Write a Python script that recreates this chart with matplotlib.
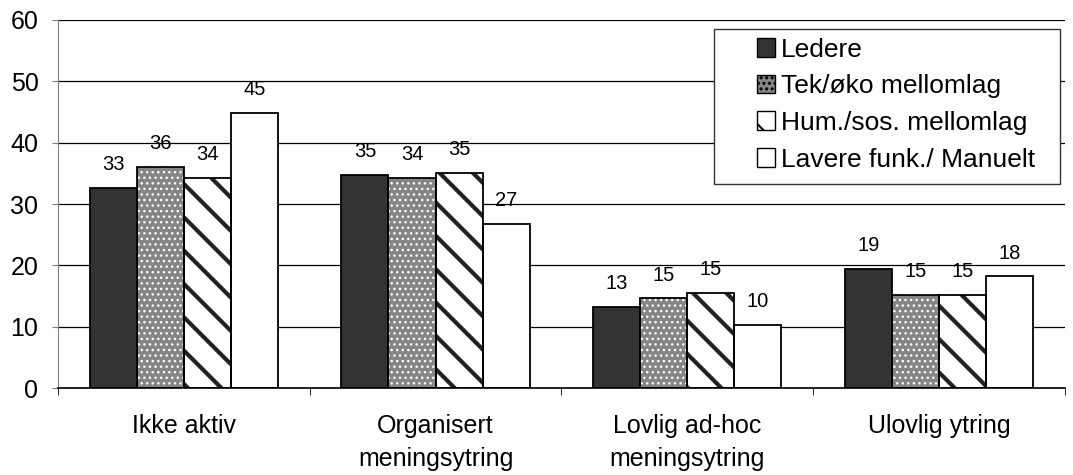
import matplotlib
matplotlib.use("Agg")
import matplotlib.pyplot as plt
import numpy as np
from matplotlib.patches import Patch, Rectangle

plt.rcParams["font.family"] = ["Liberation Sans", "DejaVu Sans"]

categories = ["Ikke aktiv", "Organisert\nmeningsytring",
              "Lovlig ad-hoc\nmeningsytring", "Ulovlig ytring"]
series = ["Ledere", "Tek/øko mellomlag", "Hum./sos. mellomlag",
          "Lavere funk./ Manuelt"]

ledere = [32.6, 34.8, 13.2, 19.4]
tek = [36.1, 34.3, 14.6, 15.2]
hum = [34.3, 35.0, 15.5, 15.2]
lavere = [44.9, 26.8, 10.3, 18.2]

ledere_lbl = [33, 35, 13, 19]
tek_lbl = [36, 34, 15, 15]
hum_lbl = [34, 35, 15, 15]
lavere_lbl = [45, 27, 10, 18]

yticks = [0, 10, 20, 30, 40, 50, 60]

# look of each series: (face, hatch, hatch colour, hatch linewidth)
styles = [
    ("#333333", "", "black", 1.0),
    ("#858585", "...", "white", 1.0),
    ("white", "\\", "#222222", 3.0),
    ("white", "", "black", 1.0),
]

fig = plt.figure(figsize=(10.73, 4.75), dpi=100)
ax = fig.add_axes([0.054, 0.183, 0.9385, 0.775])

x = np.arange(len(categories))
width = 0.187
offsets = (np.arange(4) - 1.5) * width

all_vals = [ledere, tek, hum, lavere]
all_lbls = [ledere_lbl, tek_lbl, hum_lbl, lavere_lbl]

for vals, lbls, off, (face, hatch, hcol, hlw) in zip(all_vals, all_lbls, offsets, styles):
    with plt.rc_context({"hatch.linewidth": hlw}):
        ax.bar(x + off, vals, width, color=face, hatch=hatch,
               edgecolor=hcol if hatch else face, linewidth=0, zorder=2)
    ax.bar(x + off, vals, width, facecolor="none", edgecolor="black",
           linewidth=1.3, zorder=3)
    for xi, v, l in zip(x + off, vals, lbls):
        ax.annotate(str(l), (xi, v), xytext=(0, 10), textcoords="offset points",
                    ha="center", va="bottom", fontsize=14.5, zorder=4)

ax.set_ylim(0, 60)
ax.set_xlim(-0.5, len(categories) - 0.5)
ax.set_yticks(yticks)
ax.tick_params(axis="y", labelsize=18, length=4, direction="out", color="#808080", pad=10)
ax.set_xticks(x)
ax.set_xticklabels(categories, fontsize=18, linespacing=1.45)
ax.tick_params(axis="x", length=0, pad=19)
ax.set_xticks(np.arange(len(categories) + 1) - 0.5, minor=True)
ax.tick_params(axis="x", which="minor", length=5, color="black")

ax.yaxis.grid(True, color="black", linewidth=0.9, zorder=0)
ax.set_axisbelow(True)
for s in ["top", "right"]:
    ax.spines[s].set_visible(False)
ax.spines["left"].set_color("#808080")
ax.spines["bottom"].set_color("black")
ax.spines["bottom"].set_linewidth(1.2)

# legend box is wider than its content in the original, so draw the frame separately
ax.add_patch(Rectangle((0.6514, 0.554), 0.3436, 0.4215, transform=ax.transAxes,
                       facecolor="white", edgecolor="#333333", linewidth=1.0,
                       zorder=5, clip_on=False))
handles = []
for face, hatch, hcol, hlw in styles:
    handles.append(Patch(facecolor=face, hatch=hatch,
                         edgecolor="black", linewidth=1.0))
with plt.rc_context({"hatch.linewidth": 1.5}):
    leg = ax.legend(handles, series, loc="upper left", bbox_to_anchor=(0.694, 0.952),
                    fontsize=19, frameon=False,
                    handlelength=0.7, handleheight=0.7, handletextpad=0.2,
                    labelspacing=0.48, borderpad=0, borderaxespad=0)
leg.set_zorder(6)

fig.savefig("out.png", dpi=100)
